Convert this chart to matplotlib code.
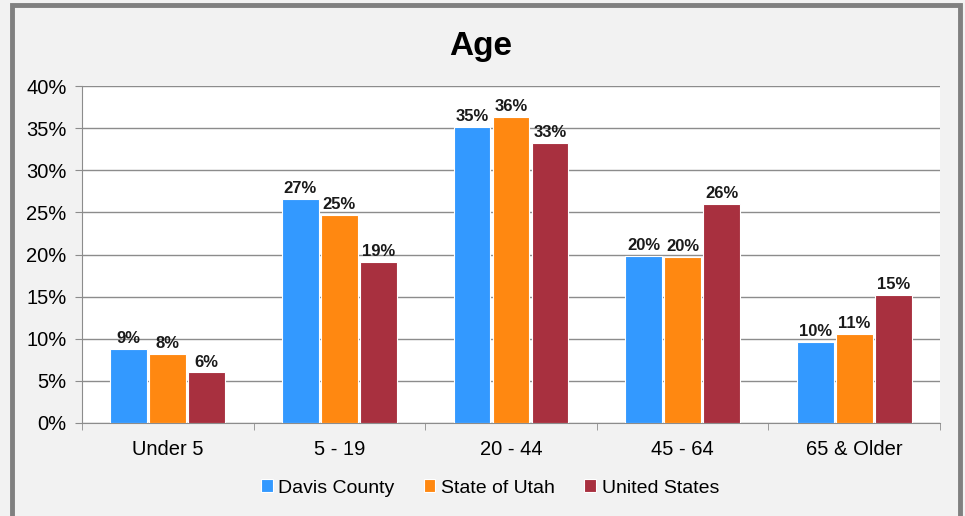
import matplotlib.pyplot as plt
import matplotlib.patches as mpatches
import numpy as np

plt.rcParams['font.family'] = ['Liberation Sans', 'DejaVu Sans']

# values (percent)
age_groups = ['Under 5', '5 - 19', '20 - 44', '45 - 64', '65 & Older']
davis = [8.8, 26.6, 35.1, 19.8, 9.6]
utah = [8.2, 24.7, 36.3, 19.7, 10.6]
us = [6.0, 19.1, 33.2, 26.0, 15.2]
series_names = ['Davis County', 'State of Utah', 'United States']
colors = ['#3399ff', '#ff8811', '#a8303f']

fig = plt.figure(figsize=(9.65, 5.16), dpi=100, facecolor='#f2f2f2')
# outer frame (bottom edge is cut off in the original)
fig.patches.append(mpatches.Rectangle((12 / 965, -0.05), (960 - 12) / 965, 1.05 - 5 / 516,
                                      transform=fig.transFigure, fill=False,
                                      edgecolor='#808080', linewidth=3.5))

ax = fig.add_axes([82 / 965, 1 - 423 / 516, (940 - 82) / 965, (423 - 86) / 516])
ax.set_facecolor('white')

x = np.arange(len(age_groups))
w = 0.215
for i, (vals, name, c) in enumerate(zip([davis, utah, us], series_names, colors)):
    pos = x + (i - 1) * (w + 0.012)
    bars = ax.bar(pos, vals, w, color=c, edgecolor='white', linewidth=0.8, label=name, zorder=3)
    for b, v in zip(bars, vals):
        ax.text(b.get_x() + b.get_width() / 2, v + 0.35, '%.0f%%' % v, ha='center', va='bottom',
                fontsize=12, fontweight='bold', color='#1a1a1a', zorder=4)

ax.set_ylim(0, 40)
ax.set_xlim(-0.5, 4.5)
ax.set_yticks(np.arange(0, 41, 5))
ax.set_yticklabels(['%d%%' % t for t in range(0, 41, 5)], fontsize=14.5)
ax.yaxis.grid(True, color='#8c8c8c', linewidth=1, zorder=0)
ax.set_axisbelow(True)

ax.set_xticks(x)
ax.set_xticklabels(age_groups, fontsize=14.5)
ax.set_xticks(np.arange(-0.5, 5, 1), minor=True)
ax.tick_params(axis='x', which='major', length=0, pad=12)
ax.tick_params(axis='x', which='minor', length=5, color='#8c8c8c')
ax.tick_params(axis='y', length=5, color='#8c8c8c', pad=6)

for s in ['top', 'right']:
    ax.spines[s].set_visible(False)
for s in ['left', 'bottom']:
    ax.spines[s].set_color('#8c8c8c')

fig.text(481 / 965, 1 - 47 / 516, 'Age', ha='center', va='center', fontsize=24, fontweight='bold')

fig.legend(loc='center', bbox_to_anchor=(490 / 965, 1 - 488 / 516), ncol=3, frameon=False,
           fontsize=14, handlelength=0.6, handleheight=0.6, handletextpad=0.3,
           columnspacing=1.5)

fig.savefig('out.png', dpi=100, facecolor=fig.get_facecolor())
